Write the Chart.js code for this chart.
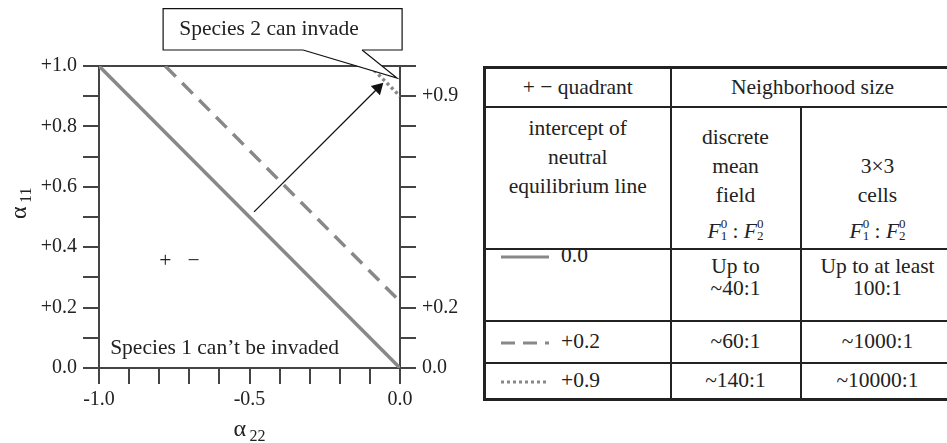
<!DOCTYPE html>
<html>
<head>
<meta charset="utf-8">
<script src="https://cdn.jsdelivr.net/npm/chart.js@4.4.1/dist/chart.umd.min.js"></script>
<style>
    html, body { margin: 0; padding: 0; background: #fff; width: 947px; height: 443px; overflow: hidden; }
    #plot { position: absolute; left: 0; top: 0; width: 470px; height: 443px; }
    table {
        position: absolute; left: 483px; top: 66px; width: 470px;
        border-collapse: collapse; table-layout: fixed;
        font-family: "Liberation Serif", "DejaVu Serif", serif; font-size: 21.5px; color: #222;
        border-top: 3px solid #222; border-left: 3px solid #222; border-bottom: 3px solid #222;
    }
    td { border: 2px solid #222; text-align: center; padding: 0; line-height: 29px; }
    .top { vertical-align: top; padding-top: 6px; }
    .leg { text-align: left; padding-left: 15px; }
    .leg svg { vertical-align: middle; margin-right: 12px; }
    .ss { display: inline-block; vertical-align: -2px; font-size: 13px; line-height: 12px; text-align: left; }
    .hdr { vertical-align: top; padding-top: 15px; }
    .frac { position: relative; top: 7px; }
    .up { position: relative; top: -9px; }
</style>
</head>
<body>
<div id="plot"><canvas id="invasionChart"></canvas></div>

<table>
    <colgroup><col style="width:186px"><col style="width:130px"><col style="width:154px"></colgroup>
    <tr style="height:39px">
        <td>+ &minus; quadrant</td>
        <td colspan="2">Neighborhood size</td>
    </tr>
    <tr style="height:142px">
        <td class="top">intercept of<br>neutral<br>equilibrium line</td>
        <td class="hdr">discrete<br>mean<br>field<div class="frac"><i>F</i><span class="ss">0<br>1</span> : <i>F</i><span class="ss">0<br>2</span></div></td>
        <td class="hdr" style="padding-top:44px">3&times;3<br>cells<div class="frac"><i>F</i><span class="ss">0<br>1</span> : <i>F</i><span class="ss">0<br>2</span></div></td>
    </tr>
    <tr style="height:72px">
        <td class="top leg" style="padding-top:0"><div class="up"><svg width="48" height="6"><line x1="0" y1="3" x2="48" y2="3" stroke="#888" stroke-width="3"/></svg>0.0</div></td>
        <td class="top" style="padding-top:5px; line-height:22px">Up to<br>~40:1</td>
        <td class="top" style="padding-top:5px; line-height:22px">Up to at least<br>100:1</td>
    </tr>
    <tr style="height:42px">
        <td class="leg"><svg width="48" height="6"><line x1="0" y1="3" x2="48" y2="3" stroke="#888" stroke-width="3" stroke-dasharray="14 8"/></svg>+0.2</td>
        <td>~60:1</td>
        <td>~1000:1</td>
    </tr>
    <tr style="height:37px">
        <td class="leg"><svg width="48" height="6"><line x1="0" y1="3" x2="46" y2="3" stroke="#888" stroke-width="3" stroke-dasharray="3 3"/></svg>+0.9</td>
        <td>~140:1</td>
        <td>~10000:1</td>
    </tr>
</table>

<script>
// neutral equilibrium lines (alpha22, alpha11)
const solidX = [-1.0, 0.0];
const solidY = [1.0, 0.0];
const dashedX = [-0.78, 0.0];
const dashedY = [1.0, 0.22];
const dottedX = [-0.1, 0.0];
const dottedY = [1.0, 0.9];
const arrowX = [-0.485, -0.073];
const arrowY = [0.517, 0.927];

// tick labels
const xTickValues = [-1.0, -0.5, 0.0];
const xTickLabels = ["-1.0", "-0.5", "0.0"];
const leftTickValues = [0.0, 0.2, 0.4, 0.6, 0.8, 1.0];
const leftTickLabels = ["0.0", "+0.2", "+0.4", "+0.6", "+0.8", "+1.0"];
const rightTickValues = [0.0, 0.2, 0.9];
const rightTickLabels = ["0.0", "+0.2", "+0.9"];

const FONT = '"Liberation Serif", "DejaVu Serif", serif';
const INK = "#222";
const AXIS = "#444";
const LINE = "#888";

function pts(xs, ys) {
    return xs.map((x, i) => ({ x: x, y: ys[i] }));
}

function labelFor(values, labels) {
    return function (v) {
        const i = values.findIndex((t) => Math.abs(t - v) < 1e-6);
        return i >= 0 ? labels[i] : "";
    };
}

// text notes + callout box drawn in data coordinates
const notesPlugin = {
    id: "notes",
    afterDatasetsDraw(chart) {
        const ctx = chart.ctx;
        const xs = chart.scales.x;
        const ys = chart.scales.y;
        const px = (v) => xs.getPixelForValue(v);
        const py = (v) => ys.getPixelForValue(v);
        ctx.save();
        ctx.fillStyle = INK;
        ctx.font = "21.5px " + FONT;
        ctx.textBaseline = "middle";
        ctx.textAlign = "left";
        ctx.fillText("Species 1 can\u2019t be invaded", px(-0.963), py(0.066));
        ctx.fillText("+   \u2212", px(-0.8), py(0.354));

        // callout
        const l = px(-0.787), r = px(0.007), t = py(1.19), b = py(1.053);
        const p1 = px(-0.322), p2 = px(-0.126);
        const tipX = px(-0.01), tipY = py(0.96);
        ctx.fillStyle = "#fff";
        ctx.strokeStyle = "#111";
        ctx.lineWidth = 1.2;
        ctx.fillRect(l, t, r - l, b - t);
        ctx.beginPath();
        ctx.moveTo(p1, b);
        ctx.lineTo(l, b);
        ctx.lineTo(l, t);
        ctx.lineTo(r, t);
        ctx.lineTo(r, b);
        ctx.lineTo(p2, b);
        ctx.stroke();
        ctx.beginPath();
        ctx.moveTo(p1, b - 0.5);
        ctx.lineTo(tipX, tipY);
        ctx.lineTo(p2, b - 0.5);
        ctx.closePath();
        ctx.fill();
        ctx.beginPath();
        ctx.moveTo(p1, b);
        ctx.lineTo(tipX, tipY);
        ctx.lineTo(p2, b);
        ctx.stroke();
        ctx.fillStyle = INK;
        ctx.textAlign = "center";
        ctx.fillText("Species 2 can invade", px(-0.435), py(1.12));

        // axis titles with subscripts
        ctx.textAlign = "left";
        ctx.textBaseline = "alphabetic";
        ctx.font = "24px " + FONT;
        const ax = px(-0.5) - 16;
        ctx.fillText("\u03b1", ax, 436);
        ctx.font = "16px " + FONT;
        ctx.fillText("22", ax + 16, 441);

        ctx.translate(26, 219);
        ctx.rotate(-Math.PI / 2);
        ctx.font = "24px " + FONT;
        ctx.fillText("\u03b1", 0, 0);
        ctx.font = "16px " + FONT;
        ctx.fillText("11", 16, 5);
        ctx.restore();
    },
};

const tickGrid = { drawOnChartArea: false, drawTicks: true, tickLength: 16, color: AXIS, lineWidth: 2 };
const tickBorder = { display: true, color: AXIS, width: 2 };
const tickFont = { family: FONT, size: 20 };

new Chart(document.getElementById("invasionChart").getContext("2d"), {
    type: "scatter",
    data: {
        datasets: [
            {
                label: "0.0",
                data: pts(solidX, solidY),
                showLine: true,
                borderColor: LINE,
                borderWidth: 3.5,
                pointRadius: 0,
            },
            {
                label: "+0.2",
                data: pts(dashedX, dashedY),
                showLine: true,
                borderColor: LINE,
                borderWidth: 3.5,
                borderDash: [15, 9],
                pointRadius: 0,
            },
            {
                label: "+0.9",
                data: pts(dottedX, dottedY),
                showLine: true,
                borderColor: LINE,
                borderWidth: 3.5,
                borderDash: [3, 3],
                pointRadius: 0,
            },
            {
                label: "arrow",
                data: pts(arrowX, arrowY),
                showLine: true,
                borderColor: "#111",
                borderWidth: 1.3,
                backgroundColor: "#111",
                pointStyle: "triangle",
                pointRadius: [0, 7.5],
                pointRotation: 45,
                pointBorderWidth: 0,
            },
        ],
    },
    options: {
        responsive: true,
        maintainAspectRatio: false,
        animation: false,
        layout: { padding: 0 },
        plugins: {
            legend: { display: false },
            tooltip: { enabled: false },
        },
        scales: {
            x: {
                type: "linear",
                position: "bottom",
                min: -1,
                max: 0,
                grid: tickGrid,
                border: tickBorder,
                ticks: {
                    stepSize: 0.1,
                    autoSkip: false,
                    maxRotation: 0,
                    padding: 4,
                    color: INK,
                    font: tickFont,
                    callback: labelFor(xTickValues, xTickLabels),
                },
                afterFit: (s) => { s.height = 75; },
            },
            xTop: {
                type: "linear",
                position: "top",
                min: -1,
                max: 0,
                grid: { display: false },
                border: tickBorder,
                ticks: { display: false },
                afterFit: (s) => { s.height = 66; },
            },
            y: {
                type: "linear",
                position: "left",
                min: 0,
                max: 1,
                grid: tickGrid,
                border: tickBorder,
                ticks: {
                    stepSize: 0.1,
                    autoSkip: false,
                    padding: 6,
                    color: INK,
                    font: tickFont,
                    callback: labelFor(leftTickValues, leftTickLabels),
                },
                afterFit: (s) => { s.width = 99; },
            },
            y2: {
                type: "linear",
                position: "right",
                min: 0,
                max: 1,
                grid: tickGrid,
                border: tickBorder,
                ticks: {
                    stepSize: 0.1,
                    autoSkip: false,
                    padding: 6,
                    color: INK,
                    font: tickFont,
                    callback: labelFor(rightTickValues, rightTickLabels),
                },
                afterFit: (s) => { s.width = 70; },
            },
        },
    },
    plugins: [notesPlugin],
});
</script>
</body>
</html>
